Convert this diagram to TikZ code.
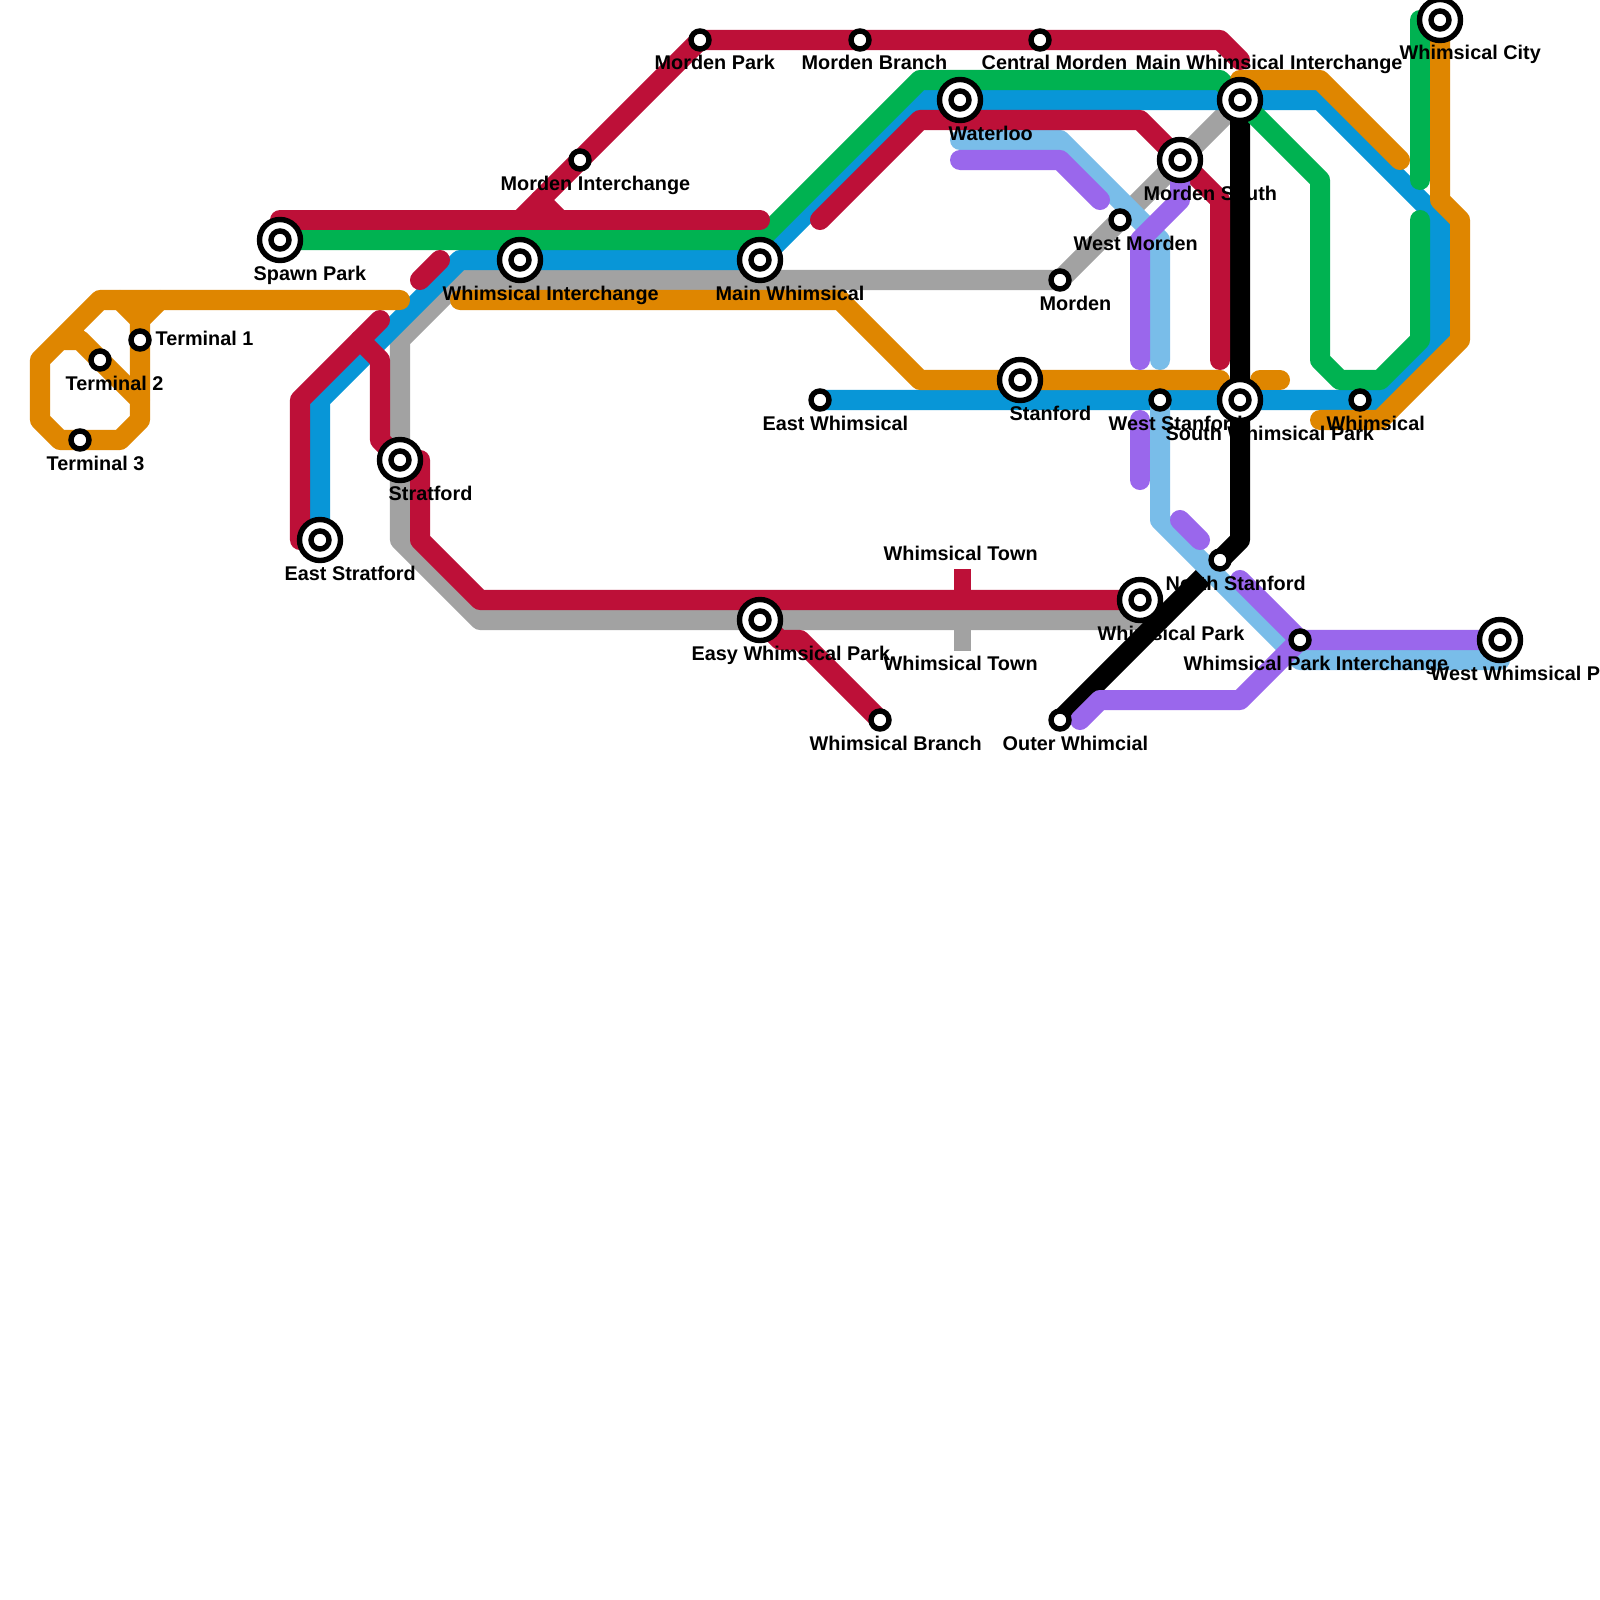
\documentclass[tikz,border=0pt]{standalone}
\usepackage{fontspec}
\setmainfont{Liberation Sans}
\usepackage{xcolor}
\usepackage{tikz}
\usetikzlibrary{backgrounds}
\definecolor{linered}{HTML}{BD1038}
\definecolor{linegreen}{HTML}{00B251}
\definecolor{lineblue}{HTML}{0896D7}
\definecolor{linegrey}{HTML}{A2A2A2}
\definecolor{lineorange}{HTML}{DF8600}
\definecolor{linesky}{HTML}{79BDE9}
\definecolor{linepurple}{HTML}{9A67EC}
\tikzset{
  metro/.style={line width=0.2cm,line cap=round,line join=round},
  smallstn/.style={circle,draw=black,fill=white,line width=0.054cm,minimum size=0.18cm,inner sep=0pt},
  bigstn/.style={circle,draw=black,fill=white,line width=0.054cm,minimum size=0.41cm,inner sep=0pt},
  stnlabel/.style={anchor=base west,inner sep=0pt,font=\fontsize{5.64}{7}\selectfont\bfseries},
  townmark/.style={line width=0.17cm}
}

\begin{document}
\begin{tikzpicture}[x=0.01cm,y=-0.01cm]
  \useasboundingbox (0,0) rectangle (1600,1600);
  % Interchanges
  \foreach \nm/\x/\y in {spawn/280/240, whimint/520/260, mainwhim/760/260,
    waterloo/960/100, mainint/1240/100, mordensouth/1180/160, stanford/1020/380,
    southpark/1240/400, whimcity/1440/20, stratford/400/460, eaststrat/320/540,
    easypark/760/620, whimpark/1140/600, westpark/1500/640} {
    \node[bigstn] (\nm) at (\x,\y) {};
    \node[smallstn] (\nm-in) at (\x,\y) {};
  }
  % Plain stations
  \foreach \nm/\x/\y in {termone/140/340, termtwo/100/360, termthree/80/440,
    mordenpark/700/40, mordenbranch/860/40, central/1040/40, mordenint/580/160,
    westmorden/1120/220, morden/1060/280, weststan/1160/400, whimsical/1360/400,
    eastwhim/820/400, northstan/1220/560, parkint/1300/640, branch/880/720,
    outer/1060/720} {
    \node[smallstn] (\nm) at (\x,\y) {};
  }
  \begin{scope}[on background layer]
    \fill[white] (0,0) rectangle (1600,1600);
    % Grey
    \draw[townmark,linegrey] (962.5,620) -- (962.5,651);
    \draw[metro,linegrey] (mainint.center) -- (morden.center) -- (460,280) -- (400,340)
      -- (400,540) -- (480,620) -- (1140,620);
    % Black
    \draw[metro,black] (mainint.center) -- (1240,540) -- (northstan.center) -- (outer.center);
    % Blue
    \draw[metro,lineblue] (eaststrat.center) -- (320,400) -- (460,260) -- (mainwhim.center)
      -- (920,100) -- (1320,100) -- (1440,220) -- (1440,340) -- (1380,400) -- (eastwhim.center);
    % Sky blue
    \draw[metro,linesky] (960,140) -- (1060,140) -- (1160,240) -- (1160,360);
    \draw[metro,linesky] (weststan.center) -- (1160,520) -- (1300,660) -- (1500,660);
    % Green
    \draw[metro,linegreen] (spawn.center) -- (760,240) -- (920,80) -- (1220,80) -- (mainint.center)
      -- (1320,180) -- (1320,360) -- (1340,380) -- (1380,380) -- (1420,340) -- (1420,220);
    \draw[metro,linegreen] (whimcity.center) -- (1420,20) -- (1420,180);
    % Red
    \draw[townmark,linered] (962.5,569) -- (962.5,600);
    \draw[metro,linered] (280,220) -- (760,220);
    \draw[metro,linered] (1240,60) -- (1220,40) -- (mordenpark.center) -- (540,200) -- (520,220);
    \draw[metro,linered] (540,200) -- (560,220);
    \draw[metro,linered] (820,220) -- (920,120) -- (1140,120) -- (mordensouth.center)
      -- (1220,200) -- (1220,360);
    \draw[metro,linered] (eaststrat.center) -- (300,540) -- (300,400) -- (380,320);
    \draw[metro,linered] (360,340) -- (380,360) -- (380,440) -- (stratford.center);
    \draw[metro,linered] (stratford.center) -- (420,460) -- (420,540) -- (480,600) -- (whimpark.center);
    \draw[metro,linered] (420,280) -- (440,260);
    \draw[metro,linered] (easypark.center) -- (780,640) -- (800,640) -- (branch.center);
    % Orange
    \draw[metro,lineorange] (400,300) -- (100,300) -- (40,360) -- (40,420) -- (60,440) -- (120,440)
      -- (140,420) -- (140,400) -- (80,340) -- (60,340);
    \draw[metro,lineorange] (160,300) -- (140,320) -- (140,400);
    \draw[metro,lineorange] (120,300) -- (140,320);
    \draw[metro,lineorange] (460,300) -- (840,300) -- (920,380) -- (1220,380);
    \draw[metro,lineorange] (1260,380) -- (1280,380);
    \draw[metro,lineorange] (1240,80) -- (1320,80) -- (1400,160);
    \draw[metro,lineorange] (whimcity.center) -- (1440,200) -- (1460,220) -- (1460,340)
      -- (1380,420) -- (1320,420);
    % Purple
    \draw[metro,linepurple] (960,160) -- (1060,160) -- (1100,200);
    \draw[metro,linepurple] (mordensouth.center) -- (1180,200) -- (1140,240) -- (1140,360);
    \draw[metro,linepurple] (1140,420) -- (1140,480);
    \draw[metro,linepurple] (1180,520) -- (1200,540);
    \draw[metro,linepurple] (1240,580) -- (parkint.center) -- (westpark.center);
    \draw[metro,linepurple] (parkint.center) -- (1240,700) -- (1100,700) -- (1080,720);
  \end{scope}
  % Labels, x and baseline
  \foreach \nm/\x/\y/\lab in {termonelab/155/345/Terminal 1, termtwolab/65/390/Terminal 2,
    termthreelab/46/470/Terminal 3, spawnlab/253/280/Spawn Park,
    eaststratlab/284/580/East Stratford, stratfordlab/388/500/Stratford,
    whimintlab/442/300/Whimsical Interchange, mainwhimlab/715/300/Main Whimsical,
    mordenintlab/500/190/Morden Interchange, mordenparklab/654/70/Morden Park,
    mordenbranchlab/801/70/Morden Branch, centrallab/981/70/Central Morden,
    mainintlab/1135/70/Main Whimsical Interchange, whimcitylab/1399/60/Whimsical City,
    waterloolab/948/140/Waterloo, stanfordlab/1009/420/Stanford,
    weststanlab/1108/430/West Stanford, southparklab/1165/440/South Whimsical Park,
    whimsicallab/1326/430/Whimsical, mordensouthlab/1143/200/Morden South,
    westmordenlab/1073/250/West Morden, mordenlab/1039/310/Morden,
    eastwhimlab/762/430/East Whimsical, easyparklab/691/660/Easy Whimsical Park,
    towntoplab/883/560/Whimsical Town, townbotlab/883/670/Whimsical Town,
    branchlab/809/750/Whimsical Branch, outerlab/1002/750/Outer Whimcial,
    whimparklab/1097/640/Whimsical Park, northstanlab/1165/590/North Stanford,
    parkintlab/1183/670/Whimsical Park Interchange, westparklab/1430/680/West Whimsical P} {
    \node[stnlabel] (\nm) at (\x,\y) {\lab};
  }
\end{tikzpicture}
\end{document}
